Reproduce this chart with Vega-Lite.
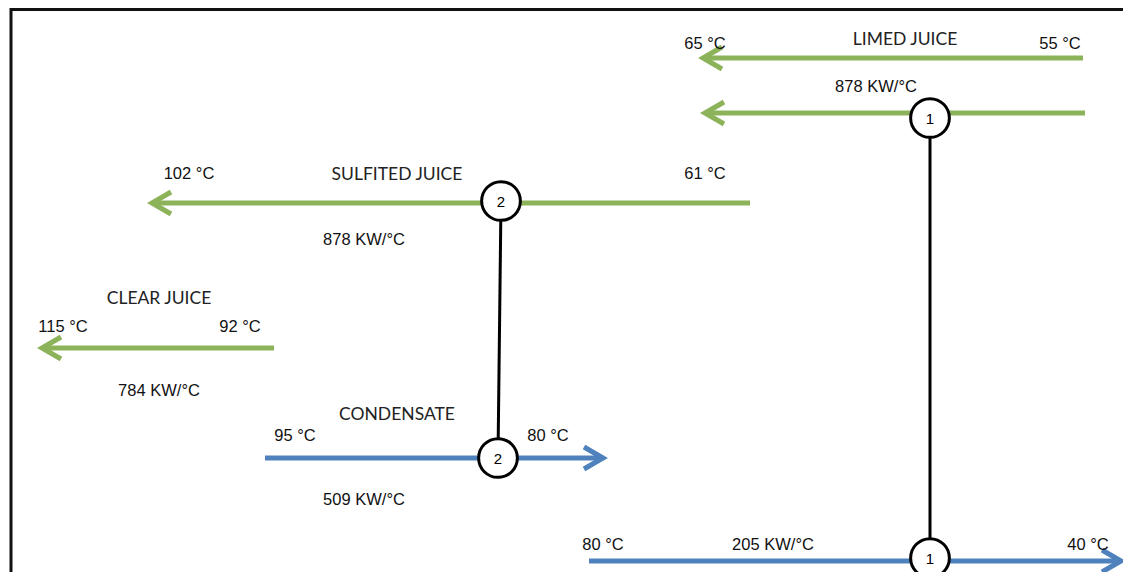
{
  "$schema": "https://vega.github.io/schema/vega-lite/v6.json",
  "width": 1123,
  "height": 572,
  "padding": 0,
  "autosize": {"type": "none"},
  "background": "white",
  "config": {"view": {"stroke": null}},
  "datasets": {
    "paths": [
      {"seg": "L1", "stream": "cold", "x": 1083, "y": 58, "o": 1},
      {"seg": "L1", "stream": "cold", "x": 703, "y": 58, "o": 2},
      {"seg": "L1a", "stream": "cold", "x": 722, "y": 47, "o": 1},
      {"seg": "L1a", "stream": "cold", "x": 703, "y": 58, "o": 2},
      {"seg": "L1a", "stream": "cold", "x": 722, "y": 69, "o": 3},
      {"seg": "L2", "stream": "cold", "x": 1085, "y": 113, "o": 1},
      {"seg": "L2", "stream": "cold", "x": 705, "y": 113, "o": 2},
      {"seg": "L2a", "stream": "cold", "x": 724, "y": 102, "o": 1},
      {"seg": "L2a", "stream": "cold", "x": 705, "y": 113, "o": 2},
      {"seg": "L2a", "stream": "cold", "x": 724, "y": 124, "o": 3},
      {"seg": "S", "stream": "cold", "x": 750, "y": 203, "o": 1},
      {"seg": "S", "stream": "cold", "x": 152, "y": 203, "o": 2},
      {"seg": "Sa", "stream": "cold", "x": 171, "y": 192, "o": 1},
      {"seg": "Sa", "stream": "cold", "x": 152, "y": 203, "o": 2},
      {"seg": "Sa", "stream": "cold", "x": 171, "y": 214, "o": 3},
      {"seg": "C", "stream": "cold", "x": 274, "y": 348, "o": 1},
      {"seg": "C", "stream": "cold", "x": 42, "y": 348, "o": 2},
      {"seg": "Ca", "stream": "cold", "x": 61, "y": 337, "o": 1},
      {"seg": "Ca", "stream": "cold", "x": 42, "y": 348, "o": 2},
      {"seg": "Ca", "stream": "cold", "x": 61, "y": 359, "o": 3},
      {"seg": "D", "stream": "hot", "x": 265, "y": 458, "o": 1},
      {"seg": "D", "stream": "hot", "x": 603, "y": 458, "o": 2},
      {"seg": "Da", "stream": "hot", "x": 584, "y": 447, "o": 1},
      {"seg": "Da", "stream": "hot", "x": 603, "y": 458, "o": 2},
      {"seg": "Da", "stream": "hot", "x": 584, "y": 469, "o": 3},
      {"seg": "B", "stream": "hot", "x": 589, "y": 561, "o": 1},
      {"seg": "B", "stream": "hot", "x": 1121, "y": 561, "o": 2},
      {"seg": "Ba", "stream": "hot", "x": 1102, "y": 550, "o": 1},
      {"seg": "Ba", "stream": "hot", "x": 1121, "y": 561, "o": 2},
      {"seg": "Ba", "stream": "hot", "x": 1102, "y": 572, "o": 3}
    ],
    "links": [
      {"ex": "1", "x": 930, "y": 118, "o": 1},
      {"ex": "1", "x": 930, "y": 558, "o": 2},
      {"ex": "2", "x": 501, "y": 201, "o": 1},
      {"ex": "2", "x": 498, "y": 458, "o": 2}
    ],
    "nodes": [
      {"ex": "1", "x": 930, "y": 118},
      {"ex": "2", "x": 501, "y": 201},
      {"ex": "2", "x": 498, "y": 458},
      {"ex": "1", "x": 930, "y": 558}
    ],
    "frame": [
      {"side": "top", "x": 10, "y": 9.5, "o": 1},
      {"side": "top", "x": 1123, "y": 9.5, "o": 2},
      {"side": "left", "x": 11, "y": 8, "o": 1},
      {"side": "left", "x": 11, "y": 572, "o": 2}
    ],
    "labels": [
      {"kind": "name", "text": "LIMED JUICE", "x": 905, "y": 40},
      {"kind": "name", "text": "SULFITED JUICE", "x": 397, "y": 175},
      {"kind": "name", "text": "CLEAR JUICE", "x": 159, "y": 299},
      {"kind": "name", "text": "CONDENSATE", "x": 397, "y": 415},
      {"kind": "value", "text": "65 °C", "x": 705, "y": 44},
      {"kind": "value", "text": "55 °C", "x": 1060, "y": 44},
      {"kind": "value", "text": "878 KW/°C", "x": 876, "y": 87},
      {"kind": "value", "text": "102 °C", "x": 189, "y": 174},
      {"kind": "value", "text": "61 °C", "x": 705, "y": 174},
      {"kind": "value", "text": "878 KW/°C", "x": 364, "y": 240},
      {"kind": "value", "text": "115 °C", "x": 63, "y": 327},
      {"kind": "value", "text": "92 °C", "x": 240, "y": 327},
      {"kind": "value", "text": "784 KW/°C", "x": 159, "y": 391},
      {"kind": "value", "text": "95 °C", "x": 295, "y": 436},
      {"kind": "value", "text": "80 °C", "x": 548, "y": 436},
      {"kind": "value", "text": "509 KW/°C", "x": 364, "y": 500},
      {"kind": "value", "text": "80 °C", "x": 603, "y": 545},
      {"kind": "value", "text": "205 KW/°C", "x": 773, "y": 545},
      {"kind": "value", "text": "40 °C", "x": 1088, "y": 545}
    ]
  },
  "encoding": {
    "x": {"field": "x", "type": "quantitative", "axis": null, "scale": {"domain": [0, 1123], "nice": false, "zero": false}},
    "y": {"field": "y", "type": "quantitative", "axis": null, "scale": {"domain": [0, 572], "nice": false, "zero": false, "reverse": true}}
  },
  "layer": [
    {
      "data": {"name": "frame"},
      "mark": {"type": "line", "color": "#111111", "strokeWidth": 3},
      "encoding": {"detail": {"field": "side"}, "order": {"field": "o"}}
    },
    {
      "data": {"name": "paths"},
      "mark": {"type": "line", "strokeWidth": 5, "strokeJoin": "miter", "strokeCap": "butt"},
      "encoding": {
        "detail": {"field": "seg"},
        "order": {"field": "o"},
        "color": {"field": "stream", "type": "nominal", "legend": null, "scale": {"domain": ["cold", "hot"], "range": ["#8db35a", "#4f81bd"]}}
      }
    },
    {
      "data": {"name": "links"},
      "mark": {"type": "line", "color": "#000000", "strokeWidth": 3},
      "encoding": {"detail": {"field": "ex"}, "order": {"field": "o"}}
    },
    {
      "data": {"name": "nodes"},
      "mark": {"type": "point", "shape": "circle", "filled": false, "fill": "white", "fillOpacity": 1, "stroke": "#000000", "strokeWidth": 3, "size": 1500, "opacity": 1}
    },
    {
      "data": {"name": "nodes"},
      "mark": {"type": "text", "font": "Liberation Sans", "fontSize": 15, "color": "#000000", "dy": 1},
      "encoding": {"text": {"field": "ex"}}
    },
    {
      "data": {"name": "labels"},
      "transform": [{"filter": "datum.kind == 'name'"}],
      "mark": {"type": "text", "font": "Lato", "fontSize": 17.5, "color": "#222222"},
      "encoding": {"text": {"field": "text"}}
    },
    {
      "data": {"name": "labels"},
      "transform": [{"filter": "datum.kind == 'value'"}],
      "mark": {"type": "text", "font": "Liberation Sans", "fontSize": 16.5, "color": "#111111"},
      "encoding": {"text": {"field": "text"}}
    }
  ]
}
